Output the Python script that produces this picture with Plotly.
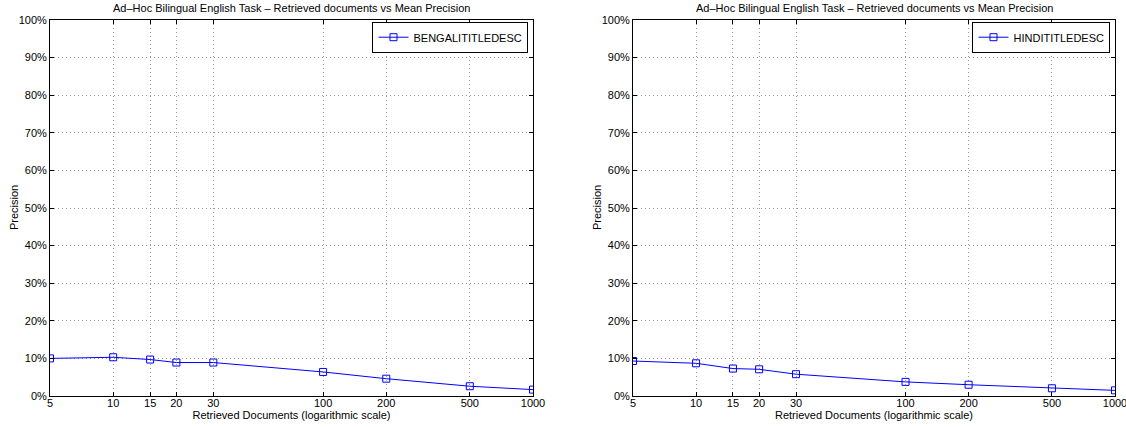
import plotly.graph_objects as go

docs = [5, 10, 15, 20, 30, 100, 200, 500, 1000]
bengali = [10.0, 10.3, 9.7, 8.9, 8.9, 6.4, 4.6, 2.6, 1.7]
hindi = [9.3, 8.7, 7.3, 7.1, 5.8, 3.75, 3.0, 2.05, 1.5]
series_names = ["BENGALITITLEDESC", "HINDITITLEDESC"]
title_text = "Ad–Hoc Bilingual English Task – Retrieved documents vs Mean Precision"
xlabel = "Retrieved Documents (logarithmic scale)"
ylabel = "Precision"
ytick_vals = list(range(0, 101, 10))
ytick_text = [f"{v}%" for v in ytick_vals]

FONT = "Liberation Sans"

fig = go.Figure()

domains = [(50/1126, 533/1126), (633/1126, 1115/1126)]
ydom = (1 - 396/427, 1 - 20/427)
ytitle_x = [14/1126, 597/1126]

for i, (vals, name) in enumerate(zip([bengali, hindi], series_names)):
    sfx = "" if i == 0 else "2"
    leg = "legend" if i == 0 else "legend2"
    fig.add_trace(go.Scatter(
        x=docs, y=vals, name=name, mode="lines+markers",
        line=dict(color="#0000ff", width=1),
        marker=dict(symbol="square-open", size=7, color="#0000ff", line=dict(width=1)),
        xaxis="x" + sfx, yaxis="y" + sfx, showlegend=True, legend=leg,
    ))

axis_common = dict(
    showline=True, linecolor="black", linewidth=1, mirror="ticks",
    ticks="inside", ticklen=4, tickcolor="black",
    showgrid=True, gridcolor="#999999", griddash="1px,3px", gridwidth=1,
    zeroline=False, automargin=False, ticklabeloverflow="allow",
    tickfont=dict(family=FONT, size=11, color="black"),
)

for i in range(2):
    sfx = "" if i == 0 else "2"
    fig.layout["xaxis" + sfx] = dict(
        axis_common, type="log", domain=domains[i],
        range=[0.69897, 3.0], tickvals=docs, ticktext=[str(d) for d in docs],
        anchor="y" + sfx, ticklabelstandoff=-3,
        title=dict(text=xlabel, font=dict(family=FONT, size=11, color="black"), standoff=0),
    )
    fig.layout["yaxis" + sfx] = dict(
        axis_common, domain=ydom, range=[0, 100], tickvals=ytick_vals,
        ticktext=ytick_text, anchor="x" + sfx,
    )
    fig.add_annotation(
        text=ylabel, x=ytitle_x[i], y=(ydom[0] + ydom[1]) / 2, xref="paper", yref="paper",
        xanchor="center", yanchor="middle", textangle=-90, showarrow=False,
        font=dict(family=FONT, size=11, color="black"),
    )
    xc = (domains[i][0] + domains[i][1]) / 2
    fig.add_annotation(
        text=title_text, x=xc, y=ydom[1], xref="paper", yref="paper",
        xanchor="center", yanchor="bottom", yshift=4, showarrow=False,
        font=dict(family=FONT, size=11, color="black"),
    )
    leg = "legend" if i == 0 else "legend2"
    fig.layout[leg] = dict(
        x=domains[i][1] - 0.004, y=ydom[1] - 0.004, xanchor="right", yanchor="top",
        bgcolor="white", bordercolor="black", borderwidth=1,
        font=dict(family=FONT, size=11, color="black"),
        tracegroupgap=0, itemwidth=30,
    )

fig.update_layout(
    width=1126, height=427,
    margin=dict(l=0, r=0, t=0, b=0),
    paper_bgcolor="white", plot_bgcolor="white",
    font=dict(family=FONT, size=11, color="black"),
)

fig.write_html("out.html", config={"displayModeBar": False},
               post_script="document.body.style.margin='0px';")
